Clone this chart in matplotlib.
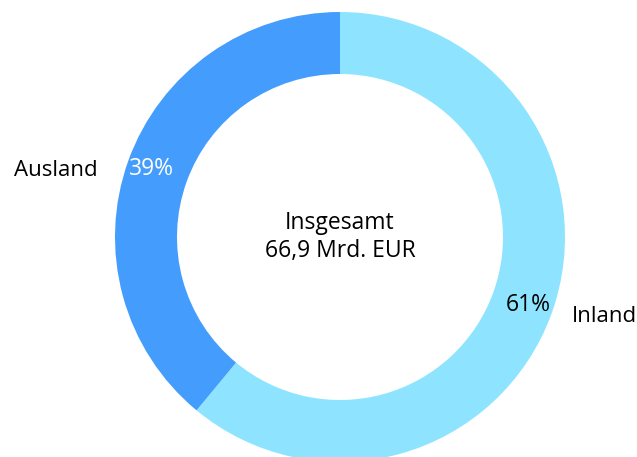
import matplotlib.pyplot as plt

labels = ['Inland', 'Ausland']
values = [61, 39]
colors = ['#8ee4ff', '#449dfc']
total_text = 'Insgesamt\n66,9 Mrd. EUR'

plt.rcParams['font.family'] = ['Open Sans', 'DejaVu Sans']

fig = plt.figure(figsize=(6.37, 4.57), dpi=100)
ax = fig.add_axes([0, 0, 1, 1])

wedges, texts, autotexts = ax.pie(
    values, labels=labels, colors=colors, startangle=90, counterclock=False,
    center=(340, 220), radius=225, labeldistance=1.1, pctdistance=0.89,
    autopct='%d%%', wedgeprops=dict(width=62, linewidth=0),
    textprops=dict(fontsize=16), frame=True)

autotexts[0].set_color('black')
autotexts[1].set_color('white')
for t in autotexts:
    t.set_fontsize(16.5)

# Beschriftungen aussen, auf Hoehe der Prozentwerte
texts[0].set_position((572, 141))
texts[0].set_ha('left')
texts[1].set_position((98, 287))
texts[1].set_ha('right')

ax.text(340, 220, total_text, ha='center', va='center', fontsize=16.5, linespacing=1.2)

ax.set_xlim(0, 637)
ax.set_ylim(0, 457)
ax.set_aspect('equal')
ax.axis('off')

fig.savefig('out.png', dpi=100)
